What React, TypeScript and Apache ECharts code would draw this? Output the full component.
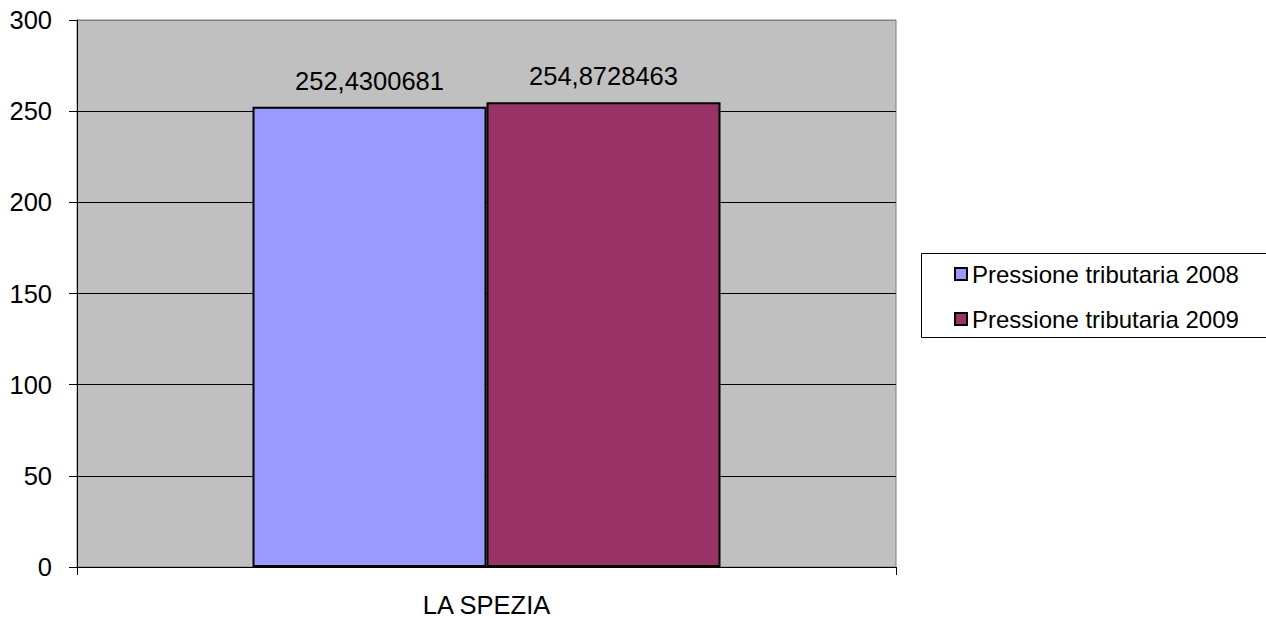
import React, { useEffect, useRef } from "react";
import * as echarts from "echarts";

const categories = ["LA SPEZIA"];
const seriesNames = ["Pressione tributaria 2008", "Pressione tributaria 2009"];
const values2008 = [252.4300681];
const values2009 = [254.8728463];
const yTicks = { min: 0, max: 300, interval: 50 };

const FONT = "'Liberation Sans', Arial, sans-serif";

export default function App() {
  const ref = useRef<HTMLDivElement>(null);
  useEffect(() => {
    if (!ref.current) return;
    const chart = echarts.init(ref.current, undefined, { renderer: "svg" });
    const fmt = (p: any) => String(p.value).replace(".", ",");
    const labelStyle = {
      show: true,
      position: "top",
      distance: 13,
      color: "#000",
      fontSize: 25.5,
      fontFamily: FONT,
      formatter: fmt,
    };
    chart.setOption({
      animation: false,
      textStyle: { fontFamily: FONT },
      grid: {
        left: 77,
        right: 370,
        top: 20,
        bottom: 54,
        show: true,
        backgroundColor: "#C0C0C0",
        borderColor: "#808080",
        borderWidth: 1,
      },
      legend: {
        orient: "vertical",
        left: 949,
        top: 257,
        itemWidth: 12,
        itemHeight: 12,
        itemGap: 21,
        icon: "rect",
        data: seriesNames,
        textStyle: {
          fontFamily: FONT,
          fontSize: 24,
          color: "#000",
          lineHeight: 24,
        },
      },
      graphic: [
        {
          type: "rect",
          shape: { x: 921.5, y: 253.5, width: 360, height: 84 },
          style: { fill: "none", stroke: "#000", lineWidth: 1 },
          z: 10,
        },
      ],
      xAxis: {
        type: "category",
        data: categories,
        axisLine: { lineStyle: { color: "#000", width: 1 } },
        axisTick: { show: true, length: 8, lineStyle: { color: "#000" } },
        axisLabel: { color: "#000", fontSize: 25.5, margin: 25, fontFamily: FONT },
      },
      yAxis: {
        type: "value",
        min: yTicks.min,
        max: yTicks.max,
        interval: yTicks.interval,
        axisLine: { show: true, lineStyle: { color: "#000", width: 1 } },
        axisTick: { show: true, length: 8, lineStyle: { color: "#000" } },
        axisLabel: { color: "#000", fontSize: 25.5, margin: 25, fontFamily: FONT },
        splitLine: {
          show: true,
          lineStyle: {
            color: ["#000", "#000", "#000", "#000", "#000", "#000", "#808080"],
            width: 1,
          },
        },
      },
      series: [
        {
          name: seriesNames[0],
          type: "bar",
          data: values2008,
          barWidth: 234,
          barGap: "0%",
          itemStyle: { color: "#9999FF", borderColor: "#000", borderWidth: 2 },
          label: labelStyle,
        },
        {
          name: seriesNames[1],
          type: "bar",
          data: values2009,
          barWidth: 234,
          barGap: "0%",
          itemStyle: { color: "#993366", borderColor: "#000", borderWidth: 2 },
          label: labelStyle,
        },
      ],
    });
    return () => chart.dispose();
  }, []);
  return <div ref={ref} style={{ width: 1266, height: 621, position: "absolute", left: 0, top: 0 }} />;
}
